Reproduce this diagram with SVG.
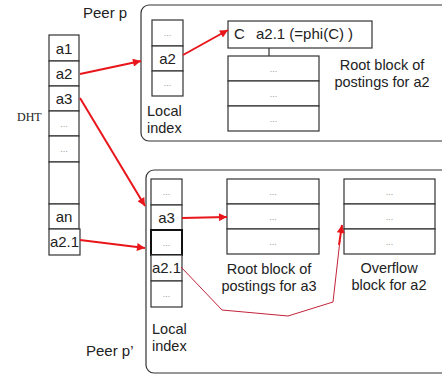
<svg xmlns="http://www.w3.org/2000/svg" width="442" height="378" viewBox="0 0 442 378">
<defs>
<marker id="ah" viewBox="0 0 10 10" refX="10" refY="5" markerWidth="15" markerHeight="8" markerUnits="userSpaceOnUse" orient="auto"><path d="M0,0 L10,5 L0,10 z" fill="#e8161b"/></marker>
</defs>
<style>
.cell{fill:#fff;stroke:#333;stroke-width:1.2}
.peer{fill:#fff;stroke:#333;stroke-width:1.2}
.t{font-family:"Liberation Sans",Arial,sans-serif;font-size:15px;fill:#222}
.lbl{font-family:"Liberation Sans",Arial,sans-serif;font-size:14.5px;fill:#222}
.dot{font-family:"Liberation Sans",Arial,sans-serif;font-size:9px;fill:#999;text-anchor:middle}
.c{text-anchor:middle}
.arr{stroke:#e8161b;stroke-width:2;fill:none;marker-end:url(#ah)}
.thin{stroke:#c4233a;stroke-width:1;fill:none}
</style>
<g id="peer-p">
<rect class="peer" x="141" y="5" width="320" height="136" rx="8"/>
<text class="t" x="83" y="18">Peer p</text>
</g>
<g id="peer-p2">
<rect class="peer" x="146" y="170" width="315" height="203" rx="8"/>
<text class="t" x="86" y="356">Peer p’</text>
</g>
<g id="dht">
<rect class="cell" x="49" y="35" width="30" height="26"/>
<rect class="cell" x="49" y="61" width="30" height="25"/>
<rect class="cell" x="49" y="86" width="30" height="25"/>
<rect class="cell" x="49" y="111" width="30" height="25"/>
<rect class="cell" x="49" y="136" width="30" height="26"/>
<rect class="cell" x="49" y="162" width="30" height="42"/>
<rect class="cell" x="49" y="204" width="30" height="25"/>
<rect class="cell" x="49" y="229" width="31" height="26"/>
<text class="t c" x="64" y="54">a1</text>
<text class="t c" x="64" y="79">a2</text>
<text class="t c" x="64" y="104">a3</text>
<text class="dot" x="64" y="127">...</text>
<text class="dot" x="64" y="152">...</text>
<text class="t c" x="64" y="222">an</text>
<text class="t c" x="64.5" y="247">a2.1</text>
<text x="17" y="121" style="font-family:'Liberation Serif','Times New Roman',serif;font-size:12px;fill:#222">DHT</text>
</g>
<g id="local-index-p">
<rect class="cell" x="152" y="20" width="31" height="26"/>
<rect class="cell" x="152" y="46" width="31" height="25"/>
<rect class="cell" x="152" y="71" width="31" height="25"/>
<text class="dot" x="167.5" y="36">...</text>
<text class="t c" x="167.5" y="64">a2</text>
<text class="dot" x="167.5" y="86">...</text>
<text class="lbl" x="147" y="116">Local</text>
<text class="lbl" x="147" y="133">index</text>
</g>
<g id="root-a2">
<rect class="cell" x="228" y="21" width="144" height="27"/>
<text class="t" x="234" y="39">C</text>
<text class="t" x="256" y="39">a2.1 (=phi(C) )</text>
<line x1="269" y1="48" x2="269" y2="56" stroke="#333" stroke-width="1.2"/>
<rect class="cell" x="228" y="56" width="91" height="25"/>
<rect class="cell" x="228" y="81" width="91" height="25"/>
<rect class="cell" x="228" y="106" width="91" height="25"/>
<text class="dot" x="273.5" y="72">...</text>
<text class="dot" x="273.5" y="97">...</text>
<text class="dot" x="273.5" y="122">...</text>
<text class="lbl c" x="382" y="70">Root block of</text>
<text class="lbl c" x="382" y="87">postings for a2</text>
</g>
<g id="local-index-p2">
<rect class="cell" x="151" y="179" width="31" height="26"/>
<rect class="cell" x="151" y="205" width="31" height="25"/>
<rect class="cell" x="151" y="230" width="31" height="25" style="stroke:#111;stroke-width:2"/>
<rect class="cell" x="151" y="255" width="31" height="26"/>
<rect class="cell" x="151" y="281" width="31" height="26"/>
<text class="dot" x="166.5" y="195">...</text>
<text class="t c" x="166.5" y="223">a3</text>
<text class="dot" x="166.5" y="246">...</text>
<text class="t c" x="166.5" y="273">a2.1</text>
<text class="dot" x="166.5" y="297">...</text>
<text class="lbl" x="152" y="334">Local</text>
<text class="lbl" x="152" y="351">index</text>
</g>
<g id="root-a3">
<rect class="cell" x="227" y="179" width="92" height="25"/>
<rect class="cell" x="227" y="204" width="92" height="25"/>
<rect class="cell" x="227" y="229" width="92" height="25"/>
<text class="dot" x="273" y="195">...</text>
<text class="dot" x="273" y="220">...</text>
<text class="dot" x="273" y="245">...</text>
<text class="lbl c" x="269" y="274">Root block of</text>
<text class="lbl c" x="269" y="291">postings for a3</text>
</g>
<g id="overflow-a2">
<rect class="cell" x="344" y="179" width="91" height="25"/>
<rect class="cell" x="344" y="204" width="91" height="25"/>
<rect class="cell" x="344" y="229" width="91" height="25"/>
<text class="dot" x="389.5" y="195">...</text>
<text class="dot" x="389.5" y="220">...</text>
<text class="dot" x="389.5" y="245">...</text>
<text class="lbl c" x="389" y="273">Overflow</text>
<text class="lbl c" x="389" y="290">block for a2</text>
</g>
<g id="connectors">
<line class="arr" x1="80" y1="74" x2="141" y2="61"/>
<line class="arr" x1="183" y1="55" x2="228" y2="30"/>
<line class="arr" x1="80" y1="98" x2="145" y2="206"/>
<line class="arr" x1="80" y1="240" x2="145" y2="248"/>
<line class="arr" x1="182" y1="218" x2="227" y2="217"/>
<polyline class="thin" points="181,267 222,310 288,316 333,302 340,240"/>
<line class="arr" x1="339" y1="245" x2="342" y2="225"/>
</g>
</svg>
